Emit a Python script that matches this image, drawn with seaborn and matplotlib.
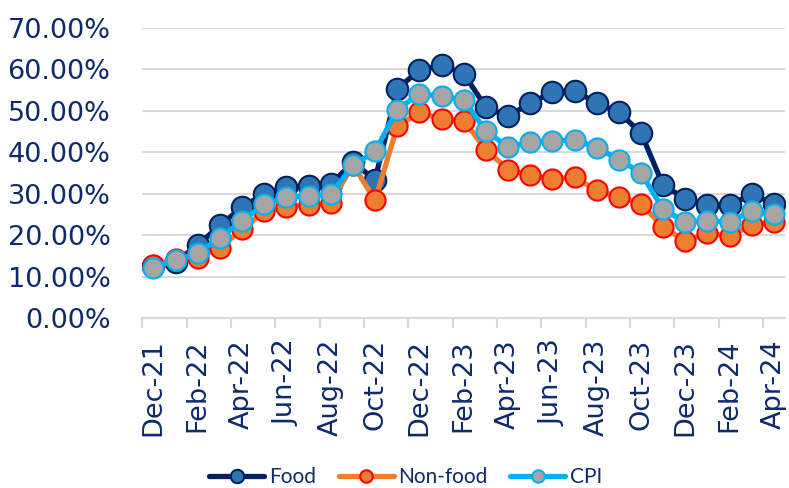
import numpy as np
import pandas as pd
import matplotlib
matplotlib.use('Agg')
import matplotlib.pyplot as plt
import seaborn as sns
from matplotlib.ticker import FixedLocator, FuncFormatter

# Data (year-on-year inflation, %)
months = ['Dec-21', 'Jan-22', 'Feb-22', 'Mar-22', 'Apr-22', 'May-22', 'Jun-22', 'Jul-22',
          'Aug-22', 'Sep-22', 'Oct-22', 'Nov-22', 'Dec-22', 'Jan-23', 'Feb-23', 'Mar-23',
          'Apr-23', 'May-23', 'Jun-23', 'Jul-23', 'Aug-23', 'Sep-23', 'Oct-23', 'Nov-23',
          'Dec-23', 'Jan-24', 'Feb-24', 'Mar-24', 'Apr-24']
food = [12.5, 13.6, 17.6, 22.4, 26.7, 30.0, 31.6, 31.8, 32.3, 37.5, 33.4, 55.3, 59.7, 60.9,
        58.9, 50.8, 48.6, 51.8, 54.4, 54.8, 51.8, 49.6, 44.6, 32.0, 28.8, 27.2, 27.2, 29.9, 27.5]
non_food = [12.8, 14.3, 14.6, 17.0, 21.4, 25.7, 26.9, 27.3, 27.7, 37.0, 28.4, 46.2, 49.6, 47.9,
            47.6, 40.6, 35.8, 34.4, 33.6, 33.9, 30.8, 29.2, 27.6, 21.9, 18.6, 20.4, 19.8, 22.4, 23.2]
cpi = [12.2, 14.0, 15.6, 19.4, 23.4, 27.6, 29.1, 29.4, 29.8, 36.8, 40.2, 50.2, 54.1, 53.4,
       52.6, 45.1, 41.2, 42.4, 42.6, 43.0, 41.1, 38.2, 35.0, 26.2, 23.2, 23.4, 23.2, 25.8, 25.0]

df = pd.DataFrame({'month': months, 'i': range(len(months)),
                   'Food': food, 'Non-food': non_food, 'CPI': cpi})

sns.set_style('white')
plt.rcParams['font.family'] = ['DejaVu Sans']

fig = plt.figure(figsize=(7.89, 4.88), dpi=100)
ax = fig.add_axes([0.1805, 0.348, 0.8145, 0.5955])

navy = '#0E2A6B'
sns.lineplot(data=df, x='i', y='Food', ax=ax, color='#002060', linewidth=3.8,
             marker='o', markersize=15.5, markerfacecolor='#2E75B6',
             markeredgecolor='#002060', markeredgewidth=1.5, label='Food')
sns.lineplot(data=df, x='i', y='Non-food', ax=ax, color='#ED7D31', linewidth=3.8,
             marker='o', markersize=14.5, markerfacecolor='#ED7D31',
             markeredgecolor='#FF0000', markeredgewidth=1.5, label='Non-food')
sns.lineplot(data=df, x='i', y='CPI', ax=ax, color='#00B0F0', linewidth=3.8,
             marker='o', markersize=14.5, markerfacecolor='#A5A5A5',
             markeredgecolor='#00B0F0', markeredgewidth=1.5, label='CPI')

ax.set_xlim(-0.5, len(months) - 0.5)
ax.set_ylim(0, 70)
ax.set_yticks(np.arange(0, 71, 10))
ax.yaxis.set_major_formatter(FuncFormatter(lambda v, p: f'{v:.2f}%'))
ax.yaxis.grid(True, color='#D9D9D9', linewidth=1.5)
ax.set_axisbelow(True)

ax.set_xticks(range(0, len(months), 2))
ax.set_xticklabels(months[::2], rotation=90)
ax.xaxis.set_minor_locator(FixedLocator(np.arange(-0.5, len(months), 2)))
ax.tick_params(axis='x', which='major', length=0, pad=15, labelsize=19.5, labelcolor=navy)
ax.tick_params(axis='x', which='minor', length=7, width=1.5, color='#D9D9D9', bottom=True)
ax.tick_params(axis='y', length=0, pad=23, labelsize=19.5, labelcolor=navy)

for s in ['top', 'right', 'left']:
    ax.spines[s].set_visible(False)
ax.spines['bottom'].set_color('#D9D9D9')
ax.spines['bottom'].set_linewidth(1.5)
ax.set_xlabel('')
ax.set_ylabel('')

handles, labels = ax.get_legend_handles_labels()
ax.get_legend().remove()
leg = fig.legend(handles, labels, loc='lower center', ncol=3, bbox_to_anchor=(0.514, -0.037),
                 frameon=False, handlelength=2.65, columnspacing=1.1, handletextpad=0.2,
                 markerscale=0.62, prop={'family': 'Lato', 'size': 15})
for t in leg.get_texts():
    t.set_color(navy)

fig.savefig('out.png', dpi=100)
